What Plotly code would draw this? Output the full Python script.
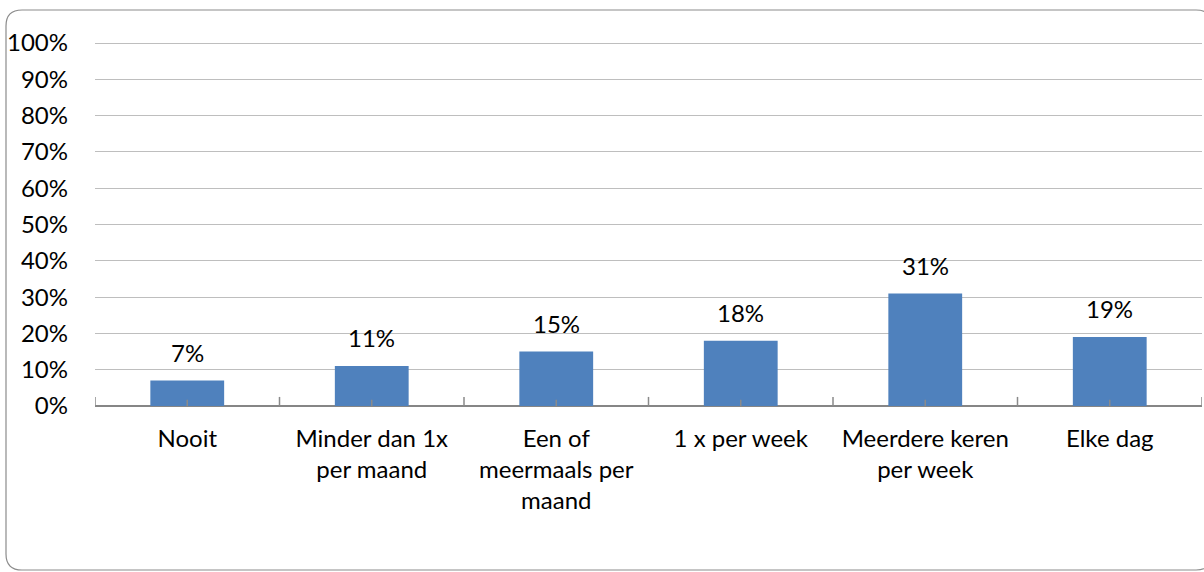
import plotly.graph_objects as go

categories = ["Nooit", "Minder dan 1x<br>per maand", "Een of<br>meermaals per<br>maand",
              "1 x per week", "Meerdere keren<br>per week", "Elke dag"]
values = [0.07, 0.11, 0.15, 0.18, 0.31, 0.19]
value_labels = ["7%", "11%", "15%", "18%", "31%", "19%"]
y_ticks = [0, 0.1, 0.2, 0.3, 0.4, 0.5, 0.6, 0.7, 0.8, 0.9, 1.0]
y_tick_labels = ["0%", "10%", "20%", "30%", "40%", "50%", "60%", "70%", "80%", "90%", "100%"]

FONT = "Lato"
FS = 24
xs = list(range(len(categories)))
fig = go.Figure()
fig.add_trace(go.Bar(
    x=xs, y=values, marker=dict(color="#4F81BD", line=dict(width=0)), width=0.4,
))

annotations = [dict(x=x, y=v, text=t, showarrow=False, xref="x", yref="y",
                    yanchor="bottom", yshift=12, font=dict(family=FONT, size=FS, color="#000000"))
               for x, v, t in zip(xs, values, value_labels)]

shapes = []
for i in xs:
    shapes.append(dict(type="line", xref="x", yref="y", x0=i, x1=i, y0=-0.017, y1=0.017,
                       line=dict(color="#8A8A8A", width=1.5), layer="above"))
for i in range(len(categories) + 1):
    shapes.append(dict(type="line", xref="x", yref="y", x0=i - 0.5, x1=i - 0.5, y0=-0.022, y1=0.025,
                       line=dict(color="#8A8A8A", width=1.5), layer="above"))

W, H = 1204, 572
l, r, t, b = 95, 2, 42, 166
pw, ph = W - l - r, H - t - b
def px(x): return (x - l) / pw
def py(y): return 1 - (y - t) / ph
x0, y0, x1, y1, rad = 6, 10, 1212, 570, 16
path = (f"M {px(x0+rad)},{py(y0)} L {px(x1-rad)},{py(y0)} "
        f"Q {px(x1)},{py(y0)} {px(x1)},{py(y0+rad)} L {px(x1)},{py(y1-rad)} "
        f"Q {px(x1)},{py(y1)} {px(x1-rad)},{py(y1)} L {px(x0+rad)},{py(y1)} "
        f"Q {px(x0)},{py(y1)} {px(x0)},{py(y1-rad)} L {px(x0)},{py(y0+rad)} "
        f"Q {px(x0)},{py(y0)} {px(x0+rad)},{py(y0)} Z")
shapes.append(dict(type="path", xref="paper", yref="paper", path=path,
                   line=dict(color="#8C8C8C", width=1.2), layer="below"))

fig.update_layout(
    width=W, height=H, margin=dict(l=l, r=r, t=t, b=b, pad=0),
    plot_bgcolor="white", paper_bgcolor="white", showlegend=False,
    font=dict(family=FONT, size=FS, color="#000000"),
    shapes=shapes, annotations=annotations,
    xaxis=dict(tickmode="array", tickvals=xs, ticktext=categories,
               range=[-0.5, len(categories) - 0.5], showgrid=False, ticks="",
               showline=False, zeroline=False, tickfont=dict(family=FONT, size=FS),
               ticklabelstandoff=16),
    yaxis=dict(range=[0, 1.003], tickmode="array", tickvals=y_ticks, ticktext=y_tick_labels,
               showgrid=True, gridcolor="#BEBEBE", gridwidth=1, zeroline=True,
               zerolinecolor="#868686", zerolinewidth=2, showline=False, ticks="",
               tickfont=dict(family=FONT, size=FS), ticklabelstandoff=26),
)
fig.write_html("out.html", config={"displayModeBar": False},
               post_script="document.body.style.margin='0';document.body.style.overflow='hidden';")
